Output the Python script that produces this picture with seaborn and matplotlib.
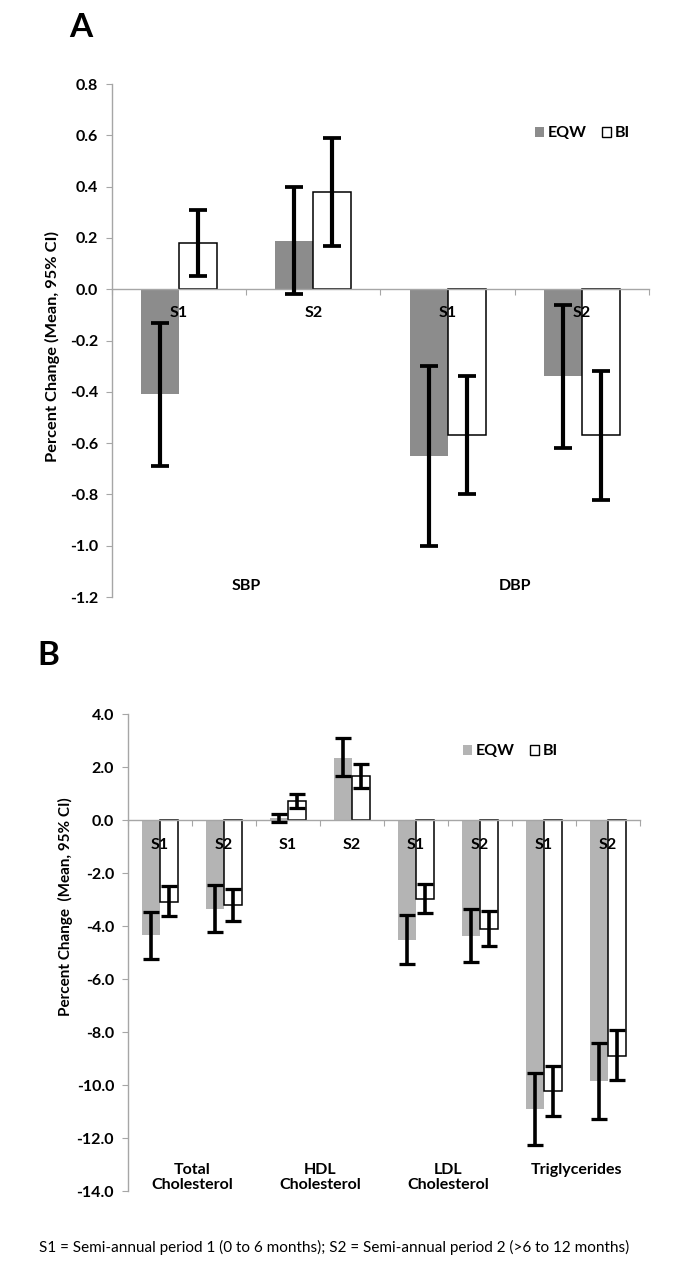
import numpy as np
import pandas as pd
import matplotlib
matplotlib.use("Agg")
import matplotlib.pyplot as plt
from matplotlib.patches import Patch
import seaborn as sns

# ---- data -------------------------------------------------------------
groups = ["EQW", "BI"]
periods = ["S1", "S2"]

# Panel A: blood pressure
measures_a = ["SBP", "DBP"]
eqw_a = [-0.41, 0.19, -0.65, -0.34]
eqw_a_lo = [-0.69, -0.02, -1.00, -0.62]
eqw_a_hi = [-0.13, 0.40, -0.30, -0.06]
bi_a = [0.18, 0.38, -0.57, -0.57]
bi_a_lo = [0.05, 0.17, -0.80, -0.82]
bi_a_hi = [0.31, 0.59, -0.34, -0.32]

# Panel B: lipids
measures_b = ["Total\nCholesterol", "HDL\nCholesterol", "LDL\nCholesterol", "Triglycerides"]
eqw_b = [-4.34, -3.35, 0.06, 2.35, -4.51, -4.36, -10.90, -9.85]
eqw_b_lo = [-5.25, -4.22, -0.09, 1.65, -5.43, -5.34, -12.27, -11.28]
eqw_b_hi = [-3.46, -2.47, 0.24, 3.10, -3.60, -3.37, -9.56, -8.43]
bi_b = [-3.08, -3.20, 0.72, 1.65, -2.97, -4.10, -10.23, -8.90]
bi_b_lo = [-3.61, -3.82, 0.44, 1.20, -3.51, -4.76, -11.17, -9.81]
bi_b_hi = [-2.49, -2.59, 1.00, 2.10, -2.41, -3.42, -9.28, -7.93]

caption = ("S1 = Semi-annual period 1 (0 to 6 months); "
           "S2 = Semi-annual period 2 (>6 to 12 months)")

plt.rcParams["font.family"] = ["Lato", "DejaVu Sans"]
AXIS_GRAY = "#a6a6a6"


def long_frame(measures, eqw, bi, eqw_lo, eqw_hi, bi_lo, bi_hi):
    slots = [f"{m}|{p}" for m in measures for p in periods]
    rows = []
    for g, vals, lo, hi in [("EQW", eqw, eqw_lo, eqw_hi), ("BI", bi, bi_lo, bi_hi)]:
        for s, v, l, h in zip(slots, vals, lo, hi):
            rows.append({"slot": s, "group": g, "value": v, "lo": l, "hi": h})
    return pd.DataFrame(rows), slots


def draw_panel(ax, df, slots, measures, eqw_color, ylim, ystep, err_lw, cap,
               period_y, measure_y, ylabel, ylabel_xy, ylabel_fs, legend_xy, fs):
    sns.barplot(data=df, x="slot", y="value", hue="group", order=slots,
                hue_order=groups, palette={"EQW": eqw_color, "BI": "white"},
                width=0.565, gap=0, errorbar=None, legend=False,
                linewidth=0, ax=ax)
    for bar in ax.containers[1]:
        bar.set_edgecolor("black")
        bar.set_linewidth(1.1)

    # confidence intervals from the bar centres
    for cont, g in zip(ax.containers, groups):
        sub = df[df["group"] == g].set_index("slot").loc[slots]
        xs = [b.get_x() + b.get_width() / 2 for b in cont]
        ax.errorbar(xs, sub["value"],
                    yerr=[sub["value"] - sub["lo"], sub["hi"] - sub["value"]],
                    fmt="none", ecolor="black", elinewidth=err_lw,
                    capsize=cap, capthick=err_lw * 0.9, zorder=5)

    n = len(slots)
    ax.set_xlim(-0.5, n - 0.5)
    ax.set_ylim(*ylim)
    ax.set_yticks(np.arange(ylim[0], ylim[1] + ystep / 2, ystep))
    ax.yaxis.set_major_formatter(
        lambda v, p: f"{v:.1f}".replace("-0.0", "0.0"))
    ax.set_xticks(np.arange(n + 1) - 0.5)
    ax.set_xticklabels([])
    ax.set_xlabel("")
    ax.set_ylabel("")

    sns.despine(ax=ax)
    ax.spines["bottom"].set_position(("data", 0))
    for sp in ["left", "bottom"]:
        ax.spines[sp].set_color(AXIS_GRAY)
        ax.spines[sp].set_linewidth(1.0)
    ax.tick_params(axis="y", length=4, color=AXIS_GRAY, pad=6,
                   labelsize=fs)
    ax.tick_params(axis="x", length=4, color=AXIS_GRAY, direction="out")
    for t in ax.get_yticklabels():
        t.set_fontweight("bold")

    for i, s in enumerate(slots):
        ax.text(i, period_y, s.split("|")[1], ha="center", va="center",
                fontsize=fs, fontweight="bold", zorder=6)
    for j, m in enumerate(measures):
        ax.text(2 * j + 0.5, measure_y, m, ha="center", va="top",
                fontsize=fs, fontweight="bold", linespacing=1.1)

    fig.text(ylabel_xy[0], ylabel_xy[1], ylabel, rotation=90, ha="center",
             va="center", fontsize=ylabel_fs, fontweight="bold")

    handles = [Patch(facecolor=eqw_color, edgecolor="none"),
               Patch(facecolor="white", edgecolor="black", linewidth=1.0)]
    ax.legend(handles, groups, loc="center", bbox_to_anchor=legend_xy,
              ncol=2, frameon=False, handlelength=0.6, handleheight=0.6,
              handletextpad=0.25, columnspacing=0.9,
              prop={"weight": "bold", "size": fs})


fig = plt.figure(figsize=(6.79, 12.66), dpi=100)
ax_a = fig.add_axes([0.1649, 0.5284, 0.7909, 0.4052])
ax_b = fig.add_axes([0.1885, 0.0592, 0.7541, 0.3768])

df_a, slots_a = long_frame(measures_a, eqw_a, bi_a, eqw_a_lo, eqw_a_hi,
                           bi_a_lo, bi_a_hi)
draw_panel(ax_a, df_a, slots_a, measures_a, "#8c8c8c", (-1.2, 0.8), 0.2,
           3.0, 6.5, -0.093, -1.13, "Percent Change (Mean, 95% CI)",
           (52.5 / 679, 1 - 347 / 1266), 11.8, (0.876, 0.904), 11.5)

df_b, slots_b = long_frame(measures_b, eqw_b, bi_b, eqw_b_lo, eqw_b_hi,
                           bi_b_lo, bi_b_hi)
draw_panel(ax_b, df_b, slots_b, measures_b, "#b4b4b4", (-14.0, 4.0), 2.0,
           2.6, 6.0, -0.96, -12.95, "Percent Change  (Mean, 95% CI)",
           (65.5 / 679, 1 - 907 / 1266), 11.0, (0.747, 0.922), 11.5)

fig.text(69 / 679, 1 - 37 / 1266, "A", fontsize=24, fontweight="bold",
         ha="left", va="baseline")
fig.text(37 / 679, 1 - 665 / 1266, "B", fontsize=24, fontweight="bold",
         ha="left", va="baseline")
fig.text(334 / 679, 1 - 1247 / 1266, caption, ha="center", va="center",
         fontsize=11)

fig.savefig("out.png", dpi=100)
